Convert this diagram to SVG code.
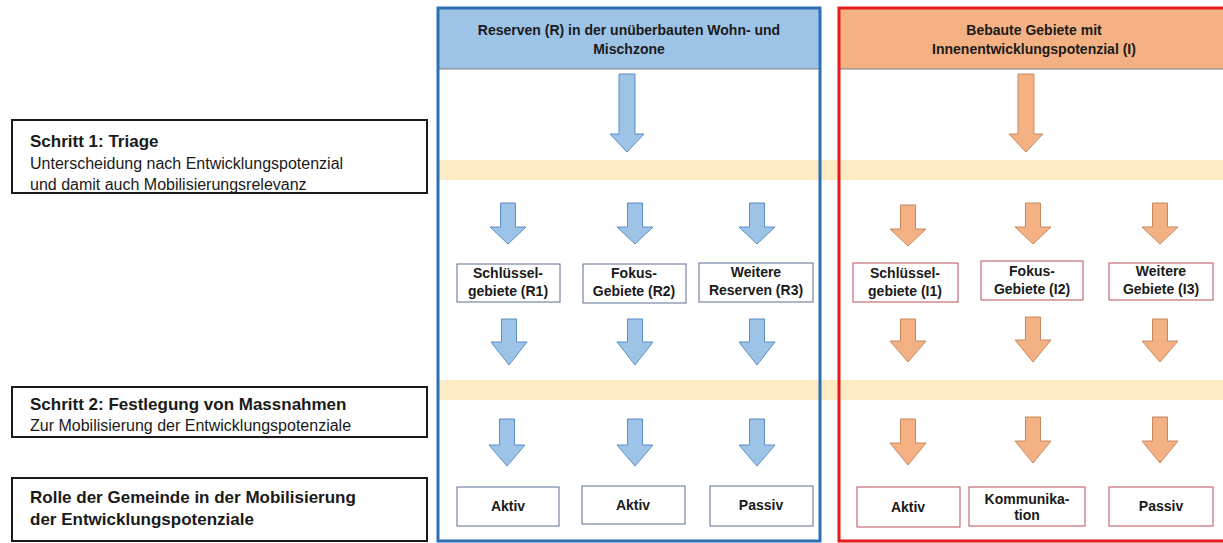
<svg xmlns="http://www.w3.org/2000/svg" width="1223" height="543" viewBox="0 0 1223 543">
<style>
text{font-family:"Liberation Sans",Arial,sans-serif;fill:#1a1a1a}
.lt{font-size:16px}
.lb{font-size:17px;font-weight:bold}
.pt{font-size:14px;font-weight:bold;text-anchor:middle}
.band{fill:#fdebc5}
.lbox{fill:#fff;stroke:#1a1a1a;stroke-width:2}
.bbox{fill:#fff;stroke:#5b6f8f;stroke-width:1}
.rbox{fill:#fff;stroke:#b7505a;stroke-width:1}
.ba{fill:#9dc3e6;stroke:#5b8fc7;stroke-width:1}
.oa{fill:#f4b183;stroke:#c58a62;stroke-width:1}
</style>
<rect width="1223" height="543" fill="#fff"/>
<g id="bands">
<rect class="band" x="438" y="160" width="785" height="20"/>
<rect class="band" x="438" y="380" width="785" height="20"/>
</g>
<g id="panel-R">
<rect x="438" y="8" width="382" height="61" fill="#9dc3e6"/>
<line x1="438" y1="69" x2="820" y2="69" stroke="#7f7f7f" stroke-width="1"/>
<rect x="438" y="8" width="382" height="533" fill="none" stroke="#2f6eb5" stroke-width="3"/>
<text class="pt" x="629" y="35">Reserven (R) in der unüberbauten Wohn- und</text>
<text class="pt" x="629" y="54">Mischzone</text>
</g>
<g id="panel-I">
<rect x="839" y="8" width="390" height="61" fill="#f4b183"/>
<line x1="839" y1="69" x2="1223" y2="69" stroke="#7f7f7f" stroke-width="1"/>
<rect x="839" y="8" width="400" height="533" fill="none" stroke="#e31b1b" stroke-width="3"/>
<text class="pt" x="1034" y="35">Bebaute Gebiete mit</text>
<text class="pt" x="1034" y="54">Innenentwicklungspotenzial (I)</text>
</g>
<g id="step1">
<rect class="lbox" x="12" y="120" width="415" height="73"/>
<text class="lb" x="30" y="147">Schritt 1: Triage</text>
<text class="lt" x="30" y="169">Unterscheidung nach Entwicklungspotenzial</text>
<text class="lt" x="30" y="190">und damit auch Mobilisierungsrelevanz</text>
</g>
<g id="step2">
<rect class="lbox" x="12" y="387" width="415" height="50"/>
<text class="lb" x="30" y="410">Schritt 2: Festlegung von Massnahmen</text>
<text class="lt" x="30" y="431">Zur Mobilisierung der Entwicklungspotenziale</text>
</g>
<g id="role">
<rect class="lbox" x="12" y="478" width="415" height="63"/>
<text class="lb" x="30" y="503">Rolle der Gemeinde in der Mobilisierung</text>
<text class="lb" x="30" y="525">der Entwicklungspotenziale</text>
</g>
<g id="R1"><rect class="bbox" x="457" y="264" width="103" height="38"/><text class="pt" x="508" y="278">Schlüssel-</text><text class="pt" x="508" y="296">gebiete (R1)</text></g>
<g id="R2"><rect class="bbox" x="583" y="264" width="103" height="39"/><text class="pt" x="634" y="278">Fokus-</text><text class="pt" x="634" y="296">Gebiete (R2)</text></g>
<g id="R3"><rect class="bbox" x="699" y="263" width="114" height="39"/><text class="pt" x="756" y="277">Weitere</text><text class="pt" x="756" y="295">Reserven (R3)</text></g>
<g id="I1"><rect class="rbox" x="853" y="263" width="105" height="39"/><text class="pt" x="905" y="278">Schlüssel-</text><text class="pt" x="905" y="296">gebiete (I1)</text></g>
<g id="I2"><rect class="rbox" x="981" y="261" width="102" height="39"/><text class="pt" x="1032" y="276">Fokus-</text><text class="pt" x="1032" y="294">Gebiete (I2)</text></g>
<g id="I3"><rect class="rbox" x="1109" y="263" width="104" height="37"/><text class="pt" x="1161" y="276">Weitere</text><text class="pt" x="1161" y="294">Gebiete (I3)</text></g>
<g id="R1-role"><rect class="bbox" x="457" y="487" width="102" height="39"/><text class="pt" x="508" y="511">Aktiv</text></g>
<g id="R2-role"><rect class="bbox" x="582" y="486" width="103" height="38"/><text class="pt" x="633" y="510">Aktiv</text></g>
<g id="R3-role"><rect class="bbox" x="710" y="486" width="103" height="40"/><text class="pt" x="761" y="510">Passiv</text></g>
<g id="I1-role"><rect class="rbox" x="857" y="487" width="103" height="40"/><text class="pt" x="908" y="512">Aktiv</text></g>
<g id="I2-role"><rect class="rbox" x="969" y="487" width="116" height="39"/><text class="pt" x="1027" y="504">Kommunika-</text><text class="pt" x="1027" y="520">tion</text></g>
<g id="I3-role"><rect class="rbox" x="1109" y="487" width="104" height="39"/><text class="pt" x="1161" y="511">Passiv</text></g>
<g id="connectors">
<path class="ba" d="M619,74H635V134H644L627,152L610,134H619Z"/>
<path class="oa" d="M1018,74H1034V134H1043L1026,152L1009,134H1018Z"/>
<path class="ba" d="M500.5,203H515.5V227H526L508,244L490,227H500.5Z"/>
<path class="ba" d="M627.5,203H642.5V227H653L635,244L617,227H627.5Z"/>
<path class="ba" d="M749.5,203H764.5V227H775L757,244L739,227H749.5Z"/>
<path class="ba" d="M501.5,319H516.5V342H527L509,365L491,342H501.5Z"/>
<path class="ba" d="M627.5,319H642.5V342H653L635,365L617,342H627.5Z"/>
<path class="ba" d="M749.5,319H764.5V342H775L757,365L739,342H749.5Z"/>
<path class="ba" d="M499.5,419H514.5V445H525L507,466L489,445H499.5Z"/>
<path class="ba" d="M627.5,419H642.5V445H653L635,466L617,445H627.5Z"/>
<path class="ba" d="M749.5,419H764.5V445H775L757,466L739,445H749.5Z"/>
<path class="oa" d="M900.5,205H915.5V229H926L908,246L890,229H900.5Z"/>
<path class="oa" d="M1025.5,203H1040.5V227H1051L1033,244L1015,227H1025.5Z"/>
<path class="oa" d="M1152.5,203H1167.5V227H1178L1160,244L1142,227H1152.5Z"/>
<path class="oa" d="M900.5,319H915.5V341H926L908,362L890,341H900.5Z"/>
<path class="oa" d="M1025.5,317H1040.5V340H1051L1033,362L1015,340H1025.5Z"/>
<path class="oa" d="M1152.5,319H1167.5V341H1178L1160,362L1142,341H1152.5Z"/>
<path class="oa" d="M900.5,419H915.5V443H926L908,465L890,443H900.5Z"/>
<path class="oa" d="M1025.5,417H1040.5V441H1051L1033,463L1015,441H1025.5Z"/>
<path class="oa" d="M1152.5,417H1167.5V441H1178L1160,463L1142,441H1152.5Z"/>
</g>
</svg>
